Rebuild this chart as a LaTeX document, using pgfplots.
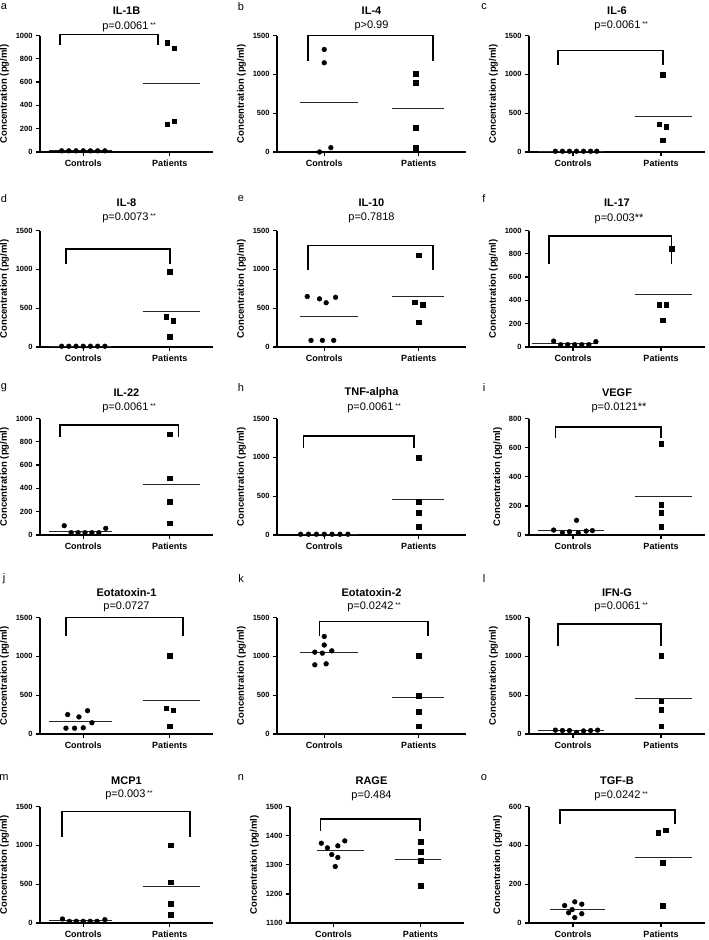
\documentclass[border=0pt]{standalone}
\usepackage{fontspec}
\setmainfont{Liberation Sans}
\usepackage{pgfplots}
\pgfplotsset{compat=1.18}
\newcommand\stars{\,\raisebox{0.35ex}{\fontsize{7}{7}\selectfont **}}
\pgfplotsset{
  panel/.style={
    scale only axis, height=116.5pt, anchor=south west,
    axis x line=bottom, axis y line=left,
    axis line style={-, line width=1.6pt},
    xmin=0.5, xmax=2.5, ymin=0,
    xtick={1,2}, xticklabels={Controls,Patients},
    tick align=outside, major tick length=4pt,
    every tick/.style={black, line width=1.3pt},
    xticklabel style={font=\bfseries\fontsize{9}{10}\selectfont},
    yticklabel style={font=\bfseries\fontsize{7.5}{8}\selectfont},
    /pgf/number format/assume math mode=true,
    /pgf/number format/set thousands separator={},
    ylabel={Concentration (pg/ml)},
    ylabel style={font=\bfseries\fontsize{9.5}{10}\selectfont},
    clip=false,
  },
  pos/.style n args={3}{at={(#1pt,-#2pt)}, width=#3pt},
  ctrl/.style={only marks, mark=*, mark size=2.4pt, black},
  pat/.style={only marks, mark=square*, mark size=2.3pt, black},
  mean/.style={black!85, line width=1pt, no marks},
}
\tikzset{
  br/.style={line width=1.8pt, line cap=rect},
  lab/.style={font=\fontsize{11}{12}\selectfont},
  ttl/.style={font=\bfseries\fontsize{11}{12}\selectfont},
  pv/.style={font=\fontsize{11}{12}\selectfont},
}
\begin{document}
\begin{tikzpicture}
\useasboundingbox (0,0) rectangle (709pt,-940pt);

% ---------- row 1
\begin{axis}[panel, pos={40}{152}{173}, ymax=1000, ytick={0,200,...,1000}]
\addplot[ctrl] coordinates {(0.75,10) (0.833,10) (0.917,10) (1.0,10) (1.083,10) (1.167,10) (1.25,10)};
\addplot[pat] coordinates {(1.97,937) (2.05,891) (1.97,237) (2.05,263)};
\addplot[mean] coordinates {(0.6,10) (1.33,10)};
\addplot[mean] coordinates {(1.69,587) (2.35,587)};
\draw[br] (0.73,923) |- (1.86,1009) -- (1.86,923);
\end{axis}

\begin{axis}[panel, pos={277}{152}{189}, ymax=1500, ytick={0,500,1000,1500}]
\addplot[ctrl] coordinates {(1.0,1320) (1.0,1149) (0.95,0) (1.07,56)};
\addplot[pat] coordinates {(1.97,1007) (1.97,896) (1.97,313) (1.97,56)};
\addplot[mean] coordinates {(0.74,634) (1.36,634)};
\addplot[mean] coordinates {(1.72,566) (2.27,566)};
\draw[br] (0.83,1179) |- (2.15,1500) -- (2.15,1179);
\end{axis}

\begin{axis}[panel, pos={529}{152}{176}, ymax=1500, ytick={0,500,1000,1500}]
\addplot[ctrl] coordinates {(0.8,10) (0.88,10) (0.96,10) (1.04,10) (1.12,10) (1.2,10) (1.27,10)};
\addplot[pat] coordinates {(2.02,999) (1.98,356) (2.06,326) (2.02,150)};
\addplot[mean] coordinates {(0.6,10) (1.35,10)};
\addplot[mean] coordinates {(1.70,454) (2.35,454)};
\draw[br] (0.83,1136) |- (2.02,1307) -- (2.02,1136);
\end{axis}

% ---------- row 2
\begin{axis}[panel, pos={40}{347}{173}, ymax=1500, ytick={0,500,1000,1500}]
\addplot[ctrl] coordinates {(0.75,10) (0.833,10) (0.917,10) (1.0,10) (1.083,10) (1.167,10) (1.25,10)};
\addplot[pat] coordinates {(2.0,967) (1.96,392) (2.04,341) (2.0,136)};
\addplot[mean] coordinates {(0.6,10) (1.33,10)};
\addplot[mean] coordinates {(1.69,458) (2.35,458)};
\draw[br] (0.8,1078) |- (2.0,1266) -- (2.0,1078);
\end{axis}

\begin{axis}[panel, pos={277}{347}{189}, ymax=1500, ytick={0,500,1000,1500}]
\addplot[ctrl] coordinates {(0.82,650) (0.95,620) (1.02,570) (1.12,640) (0.86,85) (0.98,85) (1.1,85)};
\addplot[pat] coordinates {(2.0,1180) (1.96,575) (2.04,545) (2.0,320)};
\addplot[mean] coordinates {(0.74,392) (1.36,392)};
\addplot[mean] coordinates {(1.72,655) (2.27,655)};
\draw[br] (0.83,1001) |- (2.15,1308) -- (2.15,1001);
\end{axis}

\begin{axis}[panel, pos={529}{347}{176}, ymax=1000, ytick={0,200,...,1000}]
\addplot[ctrl] coordinates {(0.78,51) (0.86,20) (0.94,20) (1.02,20) (1.1,20) (1.18,20) (1.26,46)};
\addplot[pat] coordinates {(2.12,843) (1.98,363) (2.06,363) (2.02,229)};
\addplot[mean] coordinates {(0.53,29) (1.28,29)};
\addplot[mean] coordinates {(1.70,450) (2.35,450)};
\draw[br] (0.73,720) |- (2.12,951) -- (2.12,720);
\end{axis}

% ---------- row 3
\begin{axis}[panel, pos={40}{535}{173}, ymax=1000, ytick={0,200,...,1000}]
\addplot[ctrl] coordinates {(0.78,80) (0.86,20) (0.94,20) (1.02,20) (1.1,20) (1.18,20) (1.26,57)};
\addplot[pat] coordinates {(2.0,866) (2.0,486) (2.0,286) (2.0,100)};
\addplot[mean] coordinates {(0.6,34) (1.33,34)};
\addplot[mean] coordinates {(1.69,434) (2.35,434)};
\draw[br] (0.73,849) |- (2.1,943) -- (2.1,849);
\end{axis}

\begin{axis}[panel, pos={277}{535}{189}, ymax=1500, ytick={0,500,1000,1500}]
\addplot[ctrl] coordinates {(0.75,10) (0.833,10) (0.917,10) (1.0,10) (1.083,10) (1.167,10) (1.25,10)};
\addplot[pat] coordinates {(2.0,999) (2.0,429) (2.0,287) (2.0,107)};
\addplot[mean] coordinates {(0.74,10) (1.36,10)};
\addplot[mean] coordinates {(1.72,458) (2.27,458)};
\draw[br] (0.78,1136) |- (1.95,1273) -- (1.95,1136);
\end{axis}

\begin{axis}[panel, pos={529}{535}{176}, ymax=800, ytick={0,200,...,800}]
\addplot[ctrl] coordinates {(0.78,34) (0.88,14) (0.96,23) (1.04,101) (1.06,14) (1.15,27) (1.22,30)};
\addplot[pat] coordinates {(2.0,629) (2.0,210) (2.0,155) (2.0,57)};
\addplot[mean] coordinates {(0.6,33) (1.35,33)};
\addplot[mean] coordinates {(1.70,263) (2.35,263)};
\draw[br] (0.8,670) |- (2.0,743) -- (2.0,670);
\end{axis}

% ---------- row 4
\begin{axis}[panel, pos={40}{734}{173}, ymax=1500, ytick={0,500,1000,1500}]
\addplot[ctrl] coordinates {(0.82,250) (0.95,220) (1.05,300) (1.1,145) (0.8,75) (0.9,75) (1.0,80)};
\addplot[pat] coordinates {(2.0,1007) (1.96,334) (2.04,304) (2.0,103)};
\addplot[mean] coordinates {(0.6,164) (1.33,164)};
\addplot[mean] coordinates {(1.69,437) (2.35,437)};
\draw[br] (0.8,1277) |- (2.15,1500) -- (2.15,1277);
\end{axis}

\begin{axis}[panel, pos={277}{734}{189}, ymax=1500, ytick={0,500,1000,1500}]
\addplot[ctrl] coordinates {(1.0,1256) (1.0,1146) (0.9,1054) (1.08,1071) (0.98,1041) (0.9,891) (1.02,904)};
\addplot[pat] coordinates {(2.0,1007) (2.0,497) (2.0,291) (2.0,99)};
\addplot[mean] coordinates {(0.74,1052) (1.36,1052)};
\addplot[mean] coordinates {(1.72,474) (2.27,474)};
\draw[br] (0.95,1269) |- (2.1,1449) -- (2.1,1269);
\end{axis}

\begin{axis}[panel, pos={529}{734}{176}, ymax=1500, ytick={0,500,1000,1500}]
\addplot[ctrl] coordinates {(0.8,50) (0.88,45) (0.96,45) (1.04,20) (1.12,40) (1.2,45) (1.28,50)};
\addplot[pat] coordinates {(2.0,1007) (2.0,420) (2.0,313) (2.0,103)};
\addplot[mean] coordinates {(0.6,42) (1.35,42)};
\addplot[mean] coordinates {(1.70,461) (2.35,461)};
\draw[br] (0.83,1140) |- (2.0,1414) -- (2.0,1140);
\end{axis}

% ---------- row 5
\begin{axis}[panel, pos={40}{923}{173}, ymax=1500, ytick={0,500,1000,1500}]
\addplot[ctrl] coordinates {(0.76,52) (0.84,22) (0.92,22) (1.0,22) (1.08,22) (1.16,22) (1.25,43)};
\addplot[pat] coordinates {(2.01,1000) (2.01,526) (2.01,250) (2.01,108)};
\addplot[mean] coordinates {(0.6,29) (1.33,29)};
\addplot[mean] coordinates {(1.69,471) (2.35,471)};
\draw[br] (0.75,1121) |- (2.23,1435) -- (2.23,1121);
\end{axis}

\begin{axis}[panel, pos={290}{923}{174}, ymin=1100, ymax=1500, ytick={1100,1200,...,1500}]
\addplot[ctrl] coordinates {(0.86,1374) (0.93,1358) (1.05,1365) (1.13,1382) (0.98,1335) (1.05,1325) (1.02,1294)};
\addplot[pat] coordinates {(2.0,1379) (2.0,1345) (2.0,1314) (2.0,1228)};
\addplot[mean] coordinates {(0.81,1348) (1.35,1348)};
\addplot[mean] coordinates {(1.71,1317) (2.23,1317)};
\draw[br] (0.85,1420) |- (1.99,1458) -- (1.99,1420);
\end{axis}

\begin{axis}[panel, pos={529}{923}{176}, ymax=600, ytick={0,200,400,600}]
\addplot[ctrl] coordinates {(0.905,90) (1.02,109) (1.10,97) (0.95,53) (1.10,48) (1.02,28) (0.99,69)};
\addplot[pat] coordinates {(1.97,466) (2.05,479) (2.02,312) (2.02,90)};
\addplot[mean] coordinates {(0.74,71) (1.36,71)};
\addplot[mean] coordinates {(1.70,337) (2.35,337)};
\draw[br] (0.85,514) |- (2.16,583) -- (2.16,514);
\end{axis}

% ---------- letters, titles, p-values
\node[lab] at (4pt,-7pt) {a};
\node[lab] at (241pt,-7pt) {b};
\node[lab] at (484pt,-7pt) {c};
\node[lab] at (4pt,-199pt) {d};
\node[lab] at (241pt,-199pt) {e};
\node[lab] at (484pt,-199pt) {f};
\node[lab] at (4pt,-388pt) {g};
\node[lab] at (241pt,-388pt) {h};
\node[lab] at (484pt,-388pt) {i};
\node[lab] at (4pt,-579pt) {j};
\node[lab] at (241pt,-579pt) {k};
\node[lab] at (484pt,-579pt) {l};
\node[lab] at (4pt,-778pt) {m};
\node[lab] at (241pt,-778pt) {n};
\node[lab] at (484pt,-778pt) {o};

\node[ttl] at (126.5pt,-11pt) {IL-1B};
\node[ttl] at (371.5pt,-11pt) {IL-4};
\node[ttl] at (617pt,-11pt) {IL-6};
\node[ttl] at (126.5pt,-203pt) {IL-8};
\node[ttl] at (371.5pt,-203pt) {IL-10};
\node[ttl] at (617pt,-203pt) {IL-17};
\node[ttl] at (126.5pt,-393pt) {IL-22};
\node[ttl] at (371.5pt,-393pt) {TNF-alpha};
\node[ttl] at (617pt,-393pt) {VEGF};
\node[ttl] at (126.5pt,-593pt) {Eotatoxin-1};
\node[ttl] at (371.5pt,-593pt) {Eotatoxin-2};
\node[ttl] at (617pt,-593pt) {IFN-G};
\node[ttl] at (126.5pt,-781pt) {MCP1};
\node[ttl] at (371.5pt,-781pt) {RAGE};
\node[ttl] at (617pt,-781pt) {TGF-B};

\node[pv] at (129pt,-27pt) {p=0.0061\stars};
\node[pv] at (371.5pt,-26pt) {p>0.99};
\node[pv] at (621pt,-26pt) {p=0.0061\stars};
\node[pv] at (129pt,-218pt) {p=0.0073\stars};
\node[pv] at (371.5pt,-218pt) {p=0.7818};
\node[pv] at (619pt,-219pt) {p=0.003**};
\node[pv] at (129pt,-408pt) {p=0.0061\stars};
\node[pv] at (374pt,-408pt) {p=0.0061\stars};
\node[pv] at (619pt,-408pt) {p=0.0121**};
\node[pv] at (126.5pt,-607pt) {p=0.0727};
\node[pv] at (374pt,-607pt) {p=0.0242\stars};
\node[pv] at (621pt,-607pt) {p=0.0061\stars};
\node[pv] at (129pt,-795pt) {p=0.003\stars};
\node[pv] at (371.5pt,-796pt) {p=0.484};
\node[pv] at (621pt,-796pt) {p=0.0242\stars};
\end{tikzpicture}
\end{document}
